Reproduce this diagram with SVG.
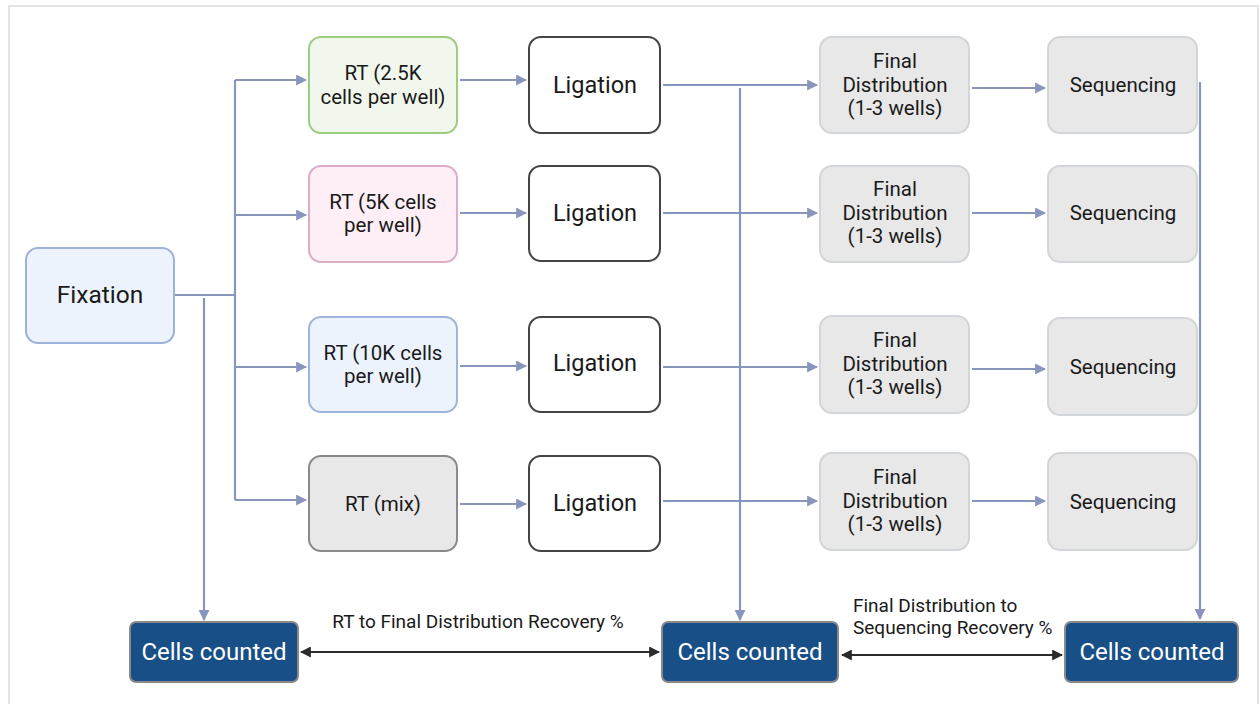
<svg xmlns="http://www.w3.org/2000/svg" width="1260" height="704" viewBox="0 0 1260 704">
<defs>
<marker id="ab" viewBox="0 0 10 10" refX="9" refY="5" markerWidth="11" markerHeight="11" markerUnits="userSpaceOnUse" orient="auto"><path d="M0,0 L10,5 L0,10 z" fill="#8896bd"/></marker>
<marker id="ak" viewBox="0 0 10 10" refX="9" refY="5" markerWidth="11" markerHeight="11" markerUnits="userSpaceOnUse" orient="auto-start-reverse"><path d="M0,0 L10,5 L0,10 z" fill="#2b2b2b"/></marker>
<style>
text{font-family:Roboto,"Liberation Sans",sans-serif;fill:#1a1a1a;text-anchor:middle}
.m{font-size:20.5px}
.l{font-size:23.5px}
.f{font-size:24.5px}
.w{font-size:24px;fill:#ffffff}
.s{font-size:19px}
.c{fill:none;stroke:#8896bd;stroke-width:2.2}
.k{fill:none;stroke:#2b2b2b;stroke-width:2.2}
.lig{fill:#ffffff;stroke:#444444;stroke-width:2}
.gr{fill:#e8e8e8;stroke:#d2d5d9;stroke-width:2}
.cc{fill:#174f86;stroke:#8a8a8a;stroke-width:2}
</style>
</defs>
<rect x="9" y="6" width="1249" height="730" fill="#ffffff" stroke="#e4e4e4" stroke-width="2"/>
<g id="connectors">
<polyline class="c" points="175,295 235,295"/>
<polyline class="c" points="235,80 235,500"/>
<line class="c" x1="235" y1="80" x2="306" y2="80" marker-end="url(#ab)"/>
<line class="c" x1="235" y1="215" x2="306" y2="215" marker-end="url(#ab)"/>
<line class="c" x1="235" y1="367" x2="306" y2="367" marker-end="url(#ab)"/>
<line class="c" x1="235" y1="500" x2="306" y2="500" marker-end="url(#ab)"/>
<line class="c" x1="204" y1="298" x2="204" y2="620" marker-end="url(#ab)"/>
<line class="c" x1="460" y1="80" x2="526" y2="80" marker-end="url(#ab)"/>
<line class="c" x1="460" y1="213" x2="526" y2="213" marker-end="url(#ab)"/>
<line class="c" x1="460" y1="366" x2="526" y2="366" marker-end="url(#ab)"/>
<line class="c" x1="460" y1="504" x2="526" y2="504" marker-end="url(#ab)"/>
<line class="c" x1="663" y1="85" x2="817" y2="85" marker-end="url(#ab)"/>
<line class="c" x1="663" y1="213" x2="817" y2="213" marker-end="url(#ab)"/>
<line class="c" x1="663" y1="367" x2="817" y2="367" marker-end="url(#ab)"/>
<line class="c" x1="663" y1="501" x2="817" y2="501" marker-end="url(#ab)"/>
<line class="c" x1="740" y1="88" x2="740" y2="620" marker-end="url(#ab)"/>
<line class="c" x1="972" y1="88" x2="1045" y2="88" marker-end="url(#ab)"/>
<line class="c" x1="972" y1="213" x2="1045" y2="213" marker-end="url(#ab)"/>
<line class="c" x1="972" y1="369" x2="1045" y2="369" marker-end="url(#ab)"/>
<line class="c" x1="972" y1="501" x2="1045" y2="501" marker-end="url(#ab)"/>
<line class="c" x1="1200" y1="82" x2="1200" y2="619" marker-end="url(#ab)"/>
<line class="k" x1="301" y1="652" x2="659" y2="652" marker-start="url(#ak)" marker-end="url(#ak)"/>
<line class="k" x1="842" y1="655" x2="1062" y2="655" marker-start="url(#ak)" marker-end="url(#ak)"/>
<text class="s" x="478" y="628">RT to Final Distribution Recovery %</text>
<text class="s" x="853" y="612" style="text-anchor:start">Final Distribution to</text>
<text class="s" x="853" y="634" style="text-anchor:start">Sequencing Recovery %</text>
</g>
<g id="fixation"><rect x="26" y="248" width="148" height="95" rx="12" fill="#ecf3fc" stroke="#9db2db" stroke-width="2"/><text class="f" x="100" y="303">Fixation</text></g>
<g id="rt1"><rect x="309" y="37" width="148" height="96" rx="12" fill="#f2f7ee" stroke="#9ccc80" stroke-width="2"/><text class="m" x="383" y="80">RT (2.5K</text><text class="m" x="383" y="104">cells per well)</text></g>
<g id="rt2"><rect x="309" y="166" width="148" height="96" rx="12" fill="#fdeff5" stroke="#dbadc8" stroke-width="2"/><text class="m" x="383" y="209">RT (5K cells</text><text class="m" x="383" y="232">per well)</text></g>
<g id="rt3"><rect x="309" y="317" width="148" height="95" rx="12" fill="#ecf3fc" stroke="#9db5dd" stroke-width="2"/><text class="m" x="383" y="360">RT (10K cells</text><text class="m" x="383" y="383">per well)</text></g>
<g id="rt4"><rect x="309" y="456" width="148" height="95" rx="12" fill="#e8e8e8" stroke="#8a8a8a" stroke-width="2"/><text class="m" x="383" y="511">RT (mix)</text></g>
<g id="lig1"><rect class="lig" x="529" y="37" width="131" height="96" rx="12"/><text class="l" x="595" y="93">Ligation</text></g>
<g id="lig2"><rect class="lig" x="529" y="166" width="131" height="95" rx="12"/><text class="l" x="595" y="221">Ligation</text></g>
<g id="lig3"><rect class="lig" x="529" y="317" width="131" height="95" rx="12"/><text class="l" x="595" y="371">Ligation</text></g>
<g id="lig4"><rect class="lig" x="529" y="456" width="131" height="95" rx="12"/><text class="l" x="595" y="511">Ligation</text></g>
<g id="fd1"><rect class="gr" x="820" y="37" width="149" height="96" rx="12"/><text class="m" x="895" y="68">Final</text><text class="m" x="895" y="92">Distribution</text><text class="m" x="895" y="115">(1-3 wells)</text></g>
<g id="fd2"><rect class="gr" x="820" y="166" width="149" height="96" rx="12"/><text class="m" x="895" y="196">Final</text><text class="m" x="895" y="220">Distribution</text><text class="m" x="895" y="243">(1-3 wells)</text></g>
<g id="fd3"><rect class="gr" x="820" y="316" width="149" height="97" rx="12"/><text class="m" x="895" y="347">Final</text><text class="m" x="895" y="371">Distribution</text><text class="m" x="895" y="394">(1-3 wells)</text></g>
<g id="fd4"><rect class="gr" x="820" y="453" width="149" height="97" rx="12"/><text class="m" x="895" y="484">Final</text><text class="m" x="895" y="508">Distribution</text><text class="m" x="895" y="531">(1-3 wells)</text></g>
<g id="seq1"><rect class="gr" x="1048" y="37" width="149" height="96" rx="12"/><text class="m" x="1123" y="92">Sequencing</text></g>
<g id="seq2"><rect class="gr" x="1048" y="166" width="149" height="96" rx="12"/><text class="m" x="1123" y="220">Sequencing</text></g>
<g id="seq3"><rect class="gr" x="1048" y="318" width="149" height="97" rx="12"/><text class="m" x="1123" y="374">Sequencing</text></g>
<g id="seq4"><rect class="gr" x="1048" y="453" width="149" height="97" rx="12"/><text class="m" x="1123" y="509">Sequencing</text></g>
<g id="count1"><rect class="cc" x="130" y="622" width="168" height="60" rx="6"/><text class="w" x="214" y="660">Cells counted</text></g>
<g id="count2"><rect class="cc" x="662" y="622" width="176" height="60" rx="6"/><text class="w" x="750" y="660">Cells counted</text></g>
<g id="count3"><rect class="cc" x="1065" y="622" width="173" height="60" rx="6"/><text class="w" x="1152" y="660">Cells counted</text></g>
</svg>
